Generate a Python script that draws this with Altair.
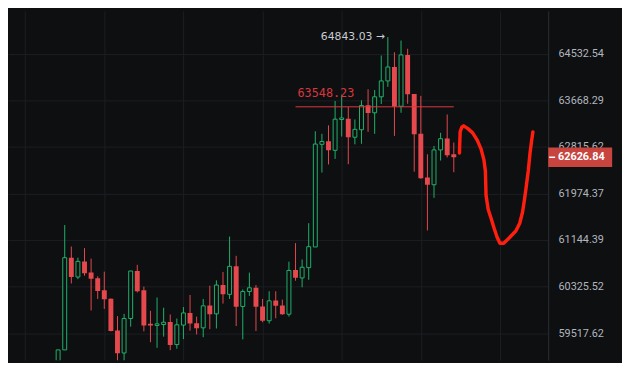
import altair as alt
import pandas as pd

# ---- candle data (index = candle position, prices) ----
opens = [58896, 59231, 60833, 60494, 60768, 60571, 60473, 60261, 60116, 59566,
         59178, 59771, 60599, 60261, 59679, 59652, 59668, 59712, 59322, 59658,
         59868, 59691, 59610, 59998, 59852, 60353, 60191, 60681, 59981, 60240,
         60305, 59981, 59733, 60083, 59998, 59846, 60615, 60478, 60658, 61022,
         62862, 62918, 62753, 63315, 63327, 62991, 63128, 63578, 63438, 63732,
         64026, 64285, 63558, 64510, 63784, 63054, 62260, 62131, 62760, 62969,
         62681]
highs = [59231, 61410, 61030, 60833, 61002, 60817, 60506, 60588, 60120, 59813,
         59852, 60599, 60707, 60326, 59905, 60136, 59959, 59841, 59771, 59970,
         60180, 59804, 60111, 60342, 60435, 60583, 61206, 60866, 60277, 60571,
         60353, 60111, 60245, 60245, 60099, 60763, 61090, 60801, 61443, 63100,
         63054, 63208, 63656, 63772, 63544, 63315, 63668, 63872, 63858, 64498,
         64843.03, 64559, 64778, 64625, 63784, 63750, 62681, 62833, 63072, 63407,
         62894]
lows = [58816, 59231, 60380, 60457, 60517, 59910, 60111, 59938, 59550, 59039,
        59008, 59631, 60224, 59550, 59363, 59267, 59459, 59226, 59251, 59417,
        59561, 59497, 59449, 59587, 59599, 60030, 60111, 59642, 59411, 60164,
        59555, 59707, 59684, 59776, 59835, 59804, 60429, 60314, 60445, 61022,
        62350, 62496, 62597, 63003, 62501, 62862, 62872, 63089, 63054, 63600,
        63916, 63015, 63438, 63604, 62366, 62239, 61315, 61896, 62568, 62625,
        62356]
closes = [59231, 60833, 60494, 60768, 60560, 60462, 60250, 60104, 59555, 59172,
          59771, 60599, 60245, 59652, 59652, 59679, 59707, 59315, 59663, 59868,
          59684, 59603, 59991, 59846, 60353, 60191, 60681, 59975, 60240, 60305,
          59975, 59733, 60078, 59991, 59846, 60609, 60481, 60665, 61027, 62867,
          62913, 62753, 63322, 63344, 62991, 63135, 63571, 63435, 63732, 64026,
          64285, 63554, 64510, 63781, 63046, 62247, 62131, 62760, 62964, 62664,
          62626.84]

# ---- axes ----
y_ticks = [59517.62, 60325.52, 61144.39, 61974.37, 62815.62, 63668.29, 64532.54]
x_grid = [-5, 7, 19, 31, 43, 55, 67]

# ---- hand-drawn red curve (candle-index units, price) ----
curve_x = [60.86, 60.96, 61.21, 61.5, 62.14, 62.86, 63.57, 64.14, 64.57, 64.79,
           64.89, 65.21, 65.71, 66.14, 66.57, 67.0, 67.57, 68.43, 69.43, 70.0,
           70.43, 70.71, 71.0, 71.29, 71.57, 71.79, 72.0]
curve_y = [62703, 63089, 63174, 63199, 63148, 63071, 62935, 62774, 62580, 62378,
           61941, 61692, 61510, 61344, 61194, 61087, 61087, 61186, 61310, 61443,
           61642, 61858, 62109, 62378, 62715, 62917, 63089]

# ---- annotations ----
level_price = 63548.23
level_start = 36
level_end = 60
peak_price = 64843.03
peak_index = 50
last_price = 62626.84

BG = "#0e0f11"
GRID = "#1d1f23"
GREEN = "#20b26b"
RED = "#e5484d"
LINE_RED = "#e0383d"
CURVE_RED = "#ff1f0f"

W, H = 549, 355

candles = pd.DataFrame({"i": list(range(len(opens))), "open": opens, "high": highs,
                        "low": lows, "close": closes})
candles["dir"] = ["up" if c >= o else "down" for o, c in zip(opens, closes)]

xs = alt.Scale(domain=[-6.857, 73.571], nice=False, zero=False)
ys = alt.Scale(type="log", domain=[59055.5, 65337.8], nice=False, zero=False)

x_axis = alt.Axis(grid=True, values=x_grid, labels=False, ticks=False, domain=False,
                  title=None, gridColor=GRID, gridWidth=1)
y_axis = alt.Axis(orient="right", values=y_ticks, format=".2f", title=None,
                  grid=True, gridColor=GRID, gridWidth=1, ticks=False,
                  labelPadding=10, labelColor="#b0b6bf", labelFontSize=11,
                  labelFont="Roboto", domain=True, domainColor="#2b2e33",
                  labelOverlap=False, labelFlush=False, labelBound=False)

base = alt.Chart(candles)

wicks = base.mark_rule(strokeWidth=1, clip=True).encode(
    x=alt.X("i:Q", scale=xs, axis=x_axis),
    y=alt.Y("low:Q", scale=ys, axis=y_axis),
    y2="high:Q",
    color=alt.Color("dir:N", scale=alt.Scale(domain=["up", "down"], range=[GREEN, RED]),
                    legend=None),
)

up_bodies = base.transform_filter("datum.dir == 'up'").mark_bar(
    size=4, fill=BG, stroke=GREEN, strokeWidth=1, clip=True
).encode(
    x=alt.X("i:Q", scale=xs, axis=x_axis),
    y=alt.Y("open:Q", scale=ys, axis=y_axis),
    y2="close:Q",
)

down_bodies = base.transform_filter("datum.dir == 'down'").mark_bar(
    size=5, fill=RED, clip=True
).encode(
    x=alt.X("i:Q", scale=xs, axis=x_axis),
    y=alt.Y("open:Q", scale=ys, axis=y_axis),
    y2="close:Q",
)

level_df = pd.DataFrame({"x": [level_start], "x2": [level_end], "y": [level_price],
                         "label": [f"{level_price:.2f}"]})
level_line = alt.Chart(level_df).mark_rule(color=LINE_RED, strokeWidth=1).encode(
    x=alt.X("x:Q", scale=xs, axis=x_axis), x2="x2:Q",
    y=alt.Y("y:Q", scale=ys, axis=y_axis),
)
level_text = alt.Chart(level_df).mark_text(
    align="left", baseline="middle", dx=2, dy=-14, fontSize=12, color="#d9363e",
    font="DejaVu Sans Mono"
).encode(
    x=alt.X("x:Q", scale=xs, axis=x_axis),
    y=alt.Y("y:Q", scale=ys, axis=y_axis),
    text="label:N",
)

peak_df = pd.DataFrame({"x": [peak_index], "y": [peak_price],
                        "label": [f"{peak_price:.2f} \u2192"]})
peak_text = alt.Chart(peak_df).mark_text(
    align="right", baseline="middle", dx=-3, fontSize=11, color="#c9cdd3",
    font="DejaVu Sans"
).encode(
    x=alt.X("x:Q", scale=xs, axis=x_axis),
    y=alt.Y("y:Q", scale=ys, axis=y_axis),
    text="label:N",
)

curve_df = pd.DataFrame({"k": list(range(len(curve_x))), "x": curve_x, "y": curve_y})
curve = alt.Chart(curve_df).mark_line(
    color=CURVE_RED, strokeWidth=3.5, strokeCap="round", strokeJoin="round", clip=True
).encode(
    x=alt.X("x:Q", scale=xs, axis=x_axis),
    y=alt.Y("y:Q", scale=ys, axis=y_axis),
    order="k:Q",
)

last_df = pd.DataFrame({"y": [last_price], "label": [f"{last_price:.2f}"]})
price_box = alt.Chart(last_df).mark_rule(color="#c8453f", strokeWidth=20, strokeCap="butt").encode(
    x=alt.value(W), x2=alt.value(W + 65),
    y=alt.Y("y:Q", scale=ys, axis=y_axis),
)
price_dash = alt.Chart(last_df).mark_rule(color="#ffffff", strokeWidth=1.5).encode(
    x=alt.value(W + 1), x2=alt.value(W + 7),
    y=alt.Y("y:Q", scale=ys, axis=y_axis),
)
price_text = alt.Chart(last_df).mark_text(
    align="left", baseline="middle", fontSize=11, fontWeight="bold", color="#ffffff",
    font="Roboto"
).encode(
    x=alt.value(W + 10),
    y=alt.Y("y:Q", scale=ys, axis=y_axis),
    text="label:N",
)

chart = alt.layer(
    wicks, up_bodies, down_bodies, level_line, level_text, peak_text, curve,
    price_box, price_dash, price_text
).properties(
    width=W, height=H, padding=0, background=BG
).configure_view(stroke=None).configure_axis(labelFont="Roboto")

chart.save("out.html", embed_options={"renderer": "svg", "actions": False})
